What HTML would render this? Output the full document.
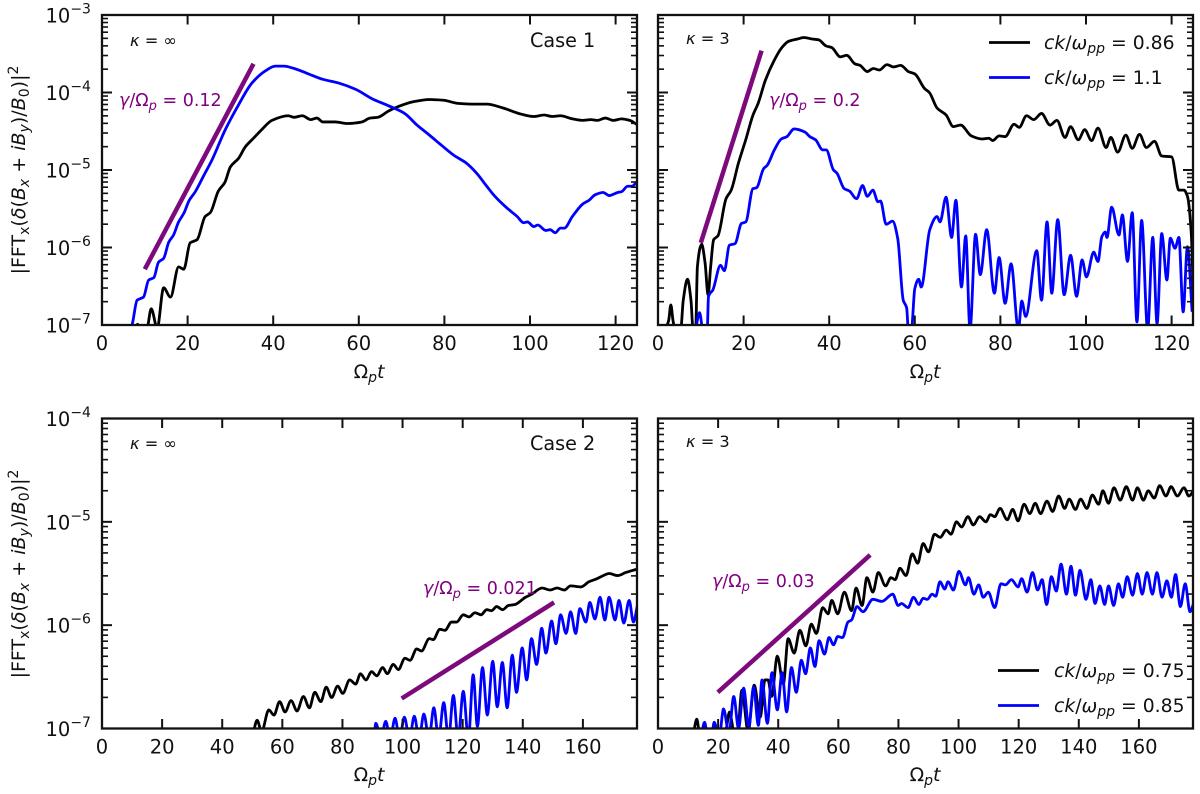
<!DOCTYPE html>
<html lang="en">
<head>
<meta charset="utf-8">
<title>FFT amplitude growth panels</title>
<style>
html,body{margin:0;padding:0;background:#fff;width:1200px;height:794px;overflow:hidden}
svg{display:block;filter:blur(0.35px)}
text{font-family:"DejaVu Sans","Liberation Sans",sans-serif;fill:#111}
.tick{font-size:19.5px}
.ann{font-size:16.2px}
.case{font-size:19.2px}
.rate{font-size:17.5px;fill:#800080}
.axl{font-size:19px}
.leg{font-size:18.8px}
.it{font-style:italic}
</style>
</head>
<body>
<svg id="figure" xmlns="http://www.w3.org/2000/svg" width="1200" height="794" viewBox="0 0 1200 794">
  <rect x="0" y="0" width="1200" height="794" fill="#fff"/>
  <g id="plots"></g>

  <g>
    <text class="axl" transform="translate(25,170) rotate(-90)" text-anchor="middle">|FFT<tspan dy="4" font-size="14">x</tspan><tspan dy="-4">(</tspan><tspan class="it">δ</tspan>(<tspan class="it">B</tspan><tspan dy="4" font-size="14" class="it">x</tspan><tspan dy="-4"> + </tspan><tspan class="it">iB</tspan><tspan dy="4" font-size="14" class="it">y</tspan><tspan dy="-4">)/</tspan><tspan class="it">B</tspan><tspan dy="4" font-size="14">0</tspan><tspan dy="-4">)|</tspan><tspan dy="-7" font-size="14">2</tspan></text>
    <text class="axl" transform="translate(25,574) rotate(-90)" text-anchor="middle">|FFT<tspan dy="4" font-size="14">x</tspan><tspan dy="-4">(</tspan><tspan class="it">δ</tspan>(<tspan class="it">B</tspan><tspan dy="4" font-size="14" class="it">x</tspan><tspan dy="-4"> + </tspan><tspan class="it">iB</tspan><tspan dy="4" font-size="14" class="it">y</tspan><tspan dy="-4">)/</tspan><tspan class="it">B</tspan><tspan dy="4" font-size="14">0</tspan><tspan dy="-4">)|</tspan><tspan dy="-7" font-size="14">2</tspan></text>

    <text class="axl" x="369" y="378" text-anchor="middle">Ω<tspan dy="4" font-size="14" class="it">p</tspan><tspan dy="-4" class="it">t</tspan></text>
    <text class="axl" x="925" y="378" text-anchor="middle">Ω<tspan dy="4" font-size="14" class="it">p</tspan><tspan dy="-4" class="it">t</tspan></text>
    <text class="axl" x="369" y="781" text-anchor="middle">Ω<tspan dy="4" font-size="14" class="it">p</tspan><tspan dy="-4" class="it">t</tspan></text>
    <text class="axl" x="925" y="781" text-anchor="middle">Ω<tspan dy="4" font-size="14" class="it">p</tspan><tspan dy="-4" class="it">t</tspan></text>

    <text class="ann" x="130" y="46"><tspan class="it">κ</tspan> = ∞</text>
    <text class="ann" x="686" y="44"><tspan class="it">κ</tspan> = 3</text>
    <text class="ann" x="130" y="449"><tspan class="it">κ</tspan> = ∞</text>
    <text class="ann" x="686" y="447"><tspan class="it">κ</tspan> = 3</text>

    <text class="case" x="530" y="47">Case 1</text>
    <text class="case" x="530" y="450">Case 2</text>

    <text class="rate" x="119" y="106"><tspan class="it">γ</tspan>/Ω<tspan dy="4" font-size="13" class="it">p</tspan><tspan dy="-4"> = 0.12</tspan></text>
    <text class="rate" x="769" y="106"><tspan class="it">γ</tspan>/Ω<tspan dy="4" font-size="13" class="it">p</tspan><tspan dy="-4"> = 0.2</tspan></text>
    <text class="rate" x="423" y="594"><tspan class="it">γ</tspan>/Ω<tspan dy="4" font-size="13" class="it">p</tspan><tspan dy="-4"> = 0.021</tspan></text>
    <text class="rate" x="712" y="587"><tspan class="it">γ</tspan>/Ω<tspan dy="4" font-size="13" class="it">p</tspan><tspan dy="-4"> = 0.03</tspan></text>

    <g>
      <line x1="989" x2="1030" y1="42.5" y2="42.5" stroke="#000" stroke-width="2.8"/>
      <text class="leg" x="1044" y="49"><tspan class="it">ck</tspan>/<tspan class="it">ω</tspan><tspan dy="4" font-size="14" class="it">pp</tspan><tspan dy="-4"> = 0.86</tspan></text>
      <line x1="989" x2="1030" y1="77.5" y2="77.5" stroke="#0000ff" stroke-width="2.8"/>
      <text class="leg" x="1044" y="84"><tspan class="it">ck</tspan>/<tspan class="it">ω</tspan><tspan dy="4" font-size="14" class="it">pp</tspan><tspan dy="-4"> = 1.1</tspan></text>
    </g>
    <g>
      <line x1="998" x2="1039" y1="670.5" y2="670.5" stroke="#000" stroke-width="2.8"/>
      <text class="leg" x="1054" y="677"><tspan class="it">ck</tspan>/<tspan class="it">ω</tspan><tspan dy="4" font-size="14" class="it">pp</tspan><tspan dy="-4"> = 0.75</tspan></text>
      <line x1="998" x2="1039" y1="705.5" y2="705.5" stroke="#0000ff" stroke-width="2.8"/>
      <text class="leg" x="1054" y="712"><tspan class="it">ck</tspan>/<tspan class="it">ω</tspan><tspan dy="4" font-size="14" class="it">pp</tspan><tspan dy="-4"> = 0.85</tspan></text>
    </g>
  </g>
</svg>

<script>
// ---- Tick labels ----
const xTicksCase1 = [0, 20, 40, 60, 80, 100, 120];
const xTicksCase2 = [0, 20, 40, 60, 80, 100, 120, 140, 160];
const yDecadesCase1 = [-3, -4, -5, -6, -7];
const yDecadesCase2 = [-4, -5, -6, -7];

// ---- Case 1, kappa = infinity (time, log10 amplitude) ----
const case1InfBlackT = [8,8.3,9,10.5,11.5,12.9,14.4,16,17.9,19.1,20.6,22.2,24.1,25.3,27.2,28.7,30,31.9,33.5,35.4,37.3,39.7,43.5,44.9,46.8,48.8,50.2,51.6,54.5,57.4,60.7,62.6,64.5,66.9,69.3,72.7,76.5,79.8,83.2,87.5,89.9,93.7,98,100.9,103.3,105.2,107.1,109.9,112.3,114.2,115.7,117.6,119.5,121.4,123.3,124.9];
const case1InfBlackLog = [-7.05,-6.99,-7.05,-7.04,-6.79,-7.04,-6.52,-6.64,-6.25,-6.28,-5.94,-5.9,-5.6,-5.55,-5.27,-5.16,-4.96,-4.85,-4.7,-4.59,-4.48,-4.36,-4.3,-4.32,-4.3,-4.35,-4.33,-4.38,-4.38,-4.4,-4.38,-4.33,-4.32,-4.24,-4.18,-4.12,-4.09,-4.1,-4.14,-4.15,-4.15,-4.2,-4.28,-4.31,-4.29,-4.31,-4.3,-4.34,-4.36,-4.35,-4.36,-4.33,-4.36,-4.34,-4.36,-4.41];
const case1InfBlueT = [6,7,8.2,9.7,10.9,12.1,13.2,14.4,15.6,16.7,17.9,19.1,20.4,21.8,23.7,25.7,28.8,31.9,35,38.2,40.5,42.5,44.9,47.8,51.6,55.4,59.3,63.1,66.9,70.7,73.6,76.5,79.3,82.2,85.1,87.5,89.9,91.8,94.6,97,98.5,99.4,100.9,101.8,103.7,104.7,105.9,107.1,108,109.9,112.3,113.8,115.2,117.1,118.5,120.5,121.4,122.8,123.8,124.9];
const case1InfBlueLog = [-7.1,-7,-6.68,-6.64,-6.42,-6.39,-6.19,-6.14,-5.93,-5.84,-5.67,-5.56,-5.39,-5.28,-5.08,-4.87,-4.48,-4.16,-3.88,-3.72,-3.66,-3.66,-3.69,-3.75,-3.83,-3.88,-3.96,-4.08,-4.17,-4.27,-4.42,-4.55,-4.68,-4.81,-4.91,-5.04,-5.21,-5.34,-5.49,-5.6,-5.68,-5.67,-5.73,-5.71,-5.78,-5.77,-5.81,-5.75,-5.75,-5.6,-5.44,-5.39,-5.32,-5.29,-5.33,-5.29,-5.28,-5.21,-5.21,-5.16];
const case1InfFitT = [10, 35.4];
const case1InfFitLog = [-6.28, -3.63];

// ---- Case 1, kappa = 3 ----
const case1KapBlackT = [1.7,2.5,3,3.5,4,5.3,5.9,6.9,7.7,8.2,8.8,9.2,10.2,11,11.7,12.3,13,14,15.9,17.1,18.8,20.5,22.2,23.4,25.1,27.2,28.8,30.5,32.6,34.1,36,37.5,39.3,40.6,42.6,44.1,46,47.2,48.9,50.3,51.7,53.5,55,56.7,58.5,60,62.3,63.4,65.2,67.3,69,70.7,73.2,75.7,77.3,78.2,79.7,81.1,83.2,84.4,86.1,87.8,89.6,91.6,93.2,95.1,96.4,98.2,99.7,101.3,102.8,104.7,105.8,107.4,109.3,110.8,112.5,114.1,116,117.7,120,121.7,122.9,123.7,124.6,125.2];
const case1KapBlackLog = [-7.06,-6.94,-6.74,-6.94,-7.06,-7.06,-6.68,-6.41,-6.68,-7.06,-7.06,-6.25,-5.96,-6.2,-6.61,-6.25,-5.9,-5.85,-5.37,-5.26,-4.91,-4.61,-4.29,-4.14,-3.84,-3.58,-3.43,-3.34,-3.31,-3.29,-3.31,-3.32,-3.4,-3.42,-3.54,-3.52,-3.63,-3.65,-3.73,-3.69,-3.71,-3.64,-3.67,-3.65,-3.73,-3.76,-3.95,-4,-4.2,-4.29,-4.44,-4.42,-4.56,-4.6,-4.59,-4.62,-4.56,-4.57,-4.41,-4.45,-4.3,-4.35,-4.27,-4.42,-4.36,-4.58,-4.44,-4.61,-4.48,-4.62,-4.46,-4.71,-4.58,-4.77,-4.55,-4.72,-4.54,-4.71,-4.63,-4.82,-4.83,-5.26,-5.26,-5.34,-5.82,-6.89];
const case1KapBlueT = [8.8,9.7,10.5,11.5,11.8,12.8,14.6,15.5,16.7,18,19.5,20.5,22.2,23,24.7,25.5,27.2,28.8,30.1,31.8,34.3,35.5,36.8,38.5,39.3,41,41.8,43.5,44.7,46.4,47.8,48.9,50.2,51.4,52,53.3,54.8,56,57.3,58.1,58.5,59.2,60,60.9,61.5,63.5,65.2,65.9,67.3,68.6,69.6,70.9,71.9,72.9,74.2,75.3,76.8,78.6,79.7,81.1,82.5,84.2,85,85.9,88.5,89.6,90.9,92,93.4,94.9,96.4,97.8,99.1,100.1,101.8,102.8,103.7,104.5,104.9,106,107.7,108.5,109.7,110.8,111.9,113,114.4,115.6,116.6,117.7,118.9,119.7,120.8,121.7,122.7,123.7,124.8];
const case1KapBlueLog = [-7.06,-6.84,-7.06,-7.06,-6.63,-6.55,-6.23,-6.3,-5.97,-5.95,-5.69,-5.67,-5.24,-5.23,-4.98,-4.94,-4.74,-4.6,-4.57,-4.47,-4.51,-4.57,-4.61,-4.74,-4.74,-5,-5.04,-5.24,-5.27,-5.37,-5.2,-5.34,-5.26,-5.41,-5.4,-5.7,-5.66,-5.88,-6.68,-6.78,-7.06,-7.06,-6.53,-6.41,-6.51,-5.77,-5.6,-5.67,-5.35,-5.87,-5.39,-6.51,-5.85,-7.06,-5.83,-6.35,-5.77,-6.59,-6.13,-6.72,-6.21,-7.06,-6.69,-6.89,-6.04,-6.68,-5.67,-6.59,-5.64,-6.61,-6.1,-6.63,-6.16,-6.38,-6.06,-6.18,-5.86,-5.8,-5.87,-5.48,-5.84,-5.58,-6.18,-5.55,-6.96,-5.65,-7.06,-5.87,-6.98,-5.82,-6.42,-5.88,-6.01,-5.87,-6.83,-5.99,-6.83];
const case1KapFitT = [10, 24.2];
const case1KapFitLog = [-5.94, -3.46];

// ---- Case 2, kappa = infinity ----
const case2InfBlackT = [50.4,51.6,53.1,55.5,57.2,59.1,60.9,62.9,64.9,67,69,70.8,72.8,74.6,76.4,78.4,80.1,82.4,84.4,86,87.8,89.7,91.4,93.4,94.9,96.9,98.6,100.8,102.5,104.7,106.3,108.9,110.2,112.4,114.1,116.3,118,120.2,122.1,124.1,126.1,128,129.6,131.3,133.3,135.2,137.4,140.9,143,146.4,149.1,151.4,153.8,155.9,159.3,162,164.7,166.1,168.8,171.5,174.3,177.8];
const case2InfBlackLog = [-7.03,-6.92,-7.03,-6.82,-6.87,-6.74,-6.84,-6.73,-6.83,-6.69,-6.8,-6.65,-6.74,-6.6,-6.7,-6.59,-6.66,-6.53,-6.57,-6.47,-6.53,-6.45,-6.49,-6.41,-6.47,-6.38,-6.43,-6.32,-6.34,-6.23,-6.25,-6.13,-6.14,-6.04,-6.05,-5.97,-5.97,-5.9,-5.92,-5.88,-5.9,-5.85,-5.86,-5.82,-5.85,-5.81,-5.8,-5.73,-5.7,-5.64,-5.66,-5.64,-5.66,-5.62,-5.63,-5.58,-5.55,-5.53,-5.5,-5.52,-5.49,-5.46];
const case2InfBlueT = [90.5,91.1,92.8,94.4,95.9,97.5,99,100.6,102.3,103.9,105.5,107.1,108.8,110.4,112,113.7,115.3,116.9,118.5,120.2,121.9,123.5,124.9,126.6,128.2,130,131.5,133.2,134.8,136.5,137.9,139.8,141.3,142.9,144.6,146.3,147.7,149.6,151,152.6,154.4,155.9,157.6,159,161,162.3,164,165.7,167.3,168.7,170.7,172,173.6,175.4,176.8,178.2];
const case2InfBlueLog = [-7.1,-6.95,-7.1,-6.93,-7.1,-6.9,-7.1,-6.89,-7.1,-6.88,-7.1,-6.86,-7.1,-6.8,-7.1,-6.75,-7.1,-6.68,-7.1,-6.64,-7.1,-6.48,-6.98,-6.41,-6.87,-6.35,-6.79,-6.36,-6.8,-6.29,-6.65,-6.22,-6.53,-6.13,-6.38,-6.03,-6.27,-5.96,-6.18,-5.9,-6.08,-5.87,-6.08,-5.84,-5.97,-5.78,-5.94,-5.73,-5.95,-5.73,-5.95,-5.76,-5.98,-5.76,-5.97,-5.8];
const case2InfFitT = [99.7, 150.4];
const case2InfFitLog = [-6.71, -5.78];

// ---- Case 2, kappa = 3 ----
const case2KapBlackT = [11.9,12.9,13.8,22.4,23.8,25.3,26.5,27.9,30,32,34,35.6,36.6,37.8,39.7,41.7,43.3,45.3,47.2,49.2,51,52.7,54.8,56.6,57.8,59.8,62,64.4,65.9,67.9,69.5,71.5,73.3,75.7,77.5,78.9,80.5,82.5,84.6,86.4,88.2,90,92,93.9,95.9,97.5,99.3,101,103.1,104.9,107,109.1,110.6,112,113.8,116.2,118,119.8,121.8,123.7,125.5,127.3,129.4,131.3,133.3,135.3,136.8,138.9,140.6,142.7,144.5,146.6,148,149.9,151.7,153.8,155.8,157.9,159.5,161.5,163.1,165.1,166.9,169,170.7,172.8,175,176.6,178.2];
const case2KapBlackLog = [-7.03,-6.91,-7.03,-7.03,-6.84,-7.03,-7.03,-6.63,-7.03,-6.58,-6.89,-6.53,-6.53,-6.69,-6.3,-6.57,-6.13,-6.27,-6.05,-6.2,-5.99,-6.08,-5.83,-5.89,-5.76,-5.89,-5.68,-5.86,-5.64,-5.81,-5.54,-5.68,-5.49,-5.62,-5.54,-5.56,-5.45,-5.52,-5.31,-5.4,-5.21,-5.29,-5.12,-5.15,-5.08,-5.12,-5,-5.05,-4.95,-5.03,-4.95,-5,-4.93,-4.95,-4.87,-4.98,-4.88,-4.99,-4.83,-4.92,-4.82,-4.92,-4.8,-4.9,-4.75,-4.87,-4.78,-4.88,-4.78,-4.87,-4.74,-4.83,-4.7,-4.82,-4.67,-4.79,-4.66,-4.79,-4.67,-4.79,-4.7,-4.77,-4.65,-4.75,-4.66,-4.75,-4.67,-4.75,-4.7];
const case2KapBlueT = [14.5,15.5,16.4,17.9,18.7,20,20.5,21.8,23.6,25.2,26.8,28.5,30.2,31.8,33.4,34.6,36.4,37.9,39.7,41.3,42.8,44.4,46,47.7,49.1,50.7,52.2,53.6,55.4,56.9,58.4,59.8,61.4,63.2,64.4,66.2,68.2,71.5,74.5,78.1,79.9,81,83.2,85,86.8,88.2,89.6,91.2,92.4,93.8,95.4,96.5,98.3,100.1,102.3,103.3,105.1,106.7,108.2,109.9,112,114.1,115.6,117.6,119.8,121,122.8,124.6,126.3,127.8,129.3,130.9,132.5,134.1,135.9,137.4,138.9,140.4,142.4,144,145.4,147,148.6,149.9,151.6,153.2,154.6,156.1,157.9,159.5,161.1,162.7,164.5,166,167.7,169.3,170.8,172.2,173.8,175.4,177,178.2];
const case2KapBlueLog = [-7.05,-6.94,-7.05,-7.05,-6.94,-7.05,-7.05,-6.81,-7.05,-6.69,-7,-6.61,-6.98,-6.6,-6.97,-6.53,-6.95,-6.46,-6.82,-6.46,-6.84,-6.41,-6.65,-6.34,-6.47,-6.22,-6.4,-6.15,-6.28,-6.12,-6.19,-6.11,-6.12,-5.97,-5.95,-5.82,-5.87,-5.75,-5.77,-5.7,-5.81,-5.79,-5.83,-5.73,-5.8,-5.74,-5.75,-5.7,-5.72,-5.58,-5.65,-5.58,-5.66,-5.48,-5.61,-5.54,-5.7,-5.61,-5.73,-5.68,-5.83,-5.6,-5.61,-5.56,-5.63,-5.55,-5.68,-5.49,-5.66,-5.56,-5.8,-5.53,-5.67,-5.41,-5.7,-5.43,-5.71,-5.47,-5.75,-5.56,-5.79,-5.62,-5.8,-5.62,-5.81,-5.6,-5.73,-5.53,-5.71,-5.5,-5.7,-5.49,-5.7,-5.49,-5.73,-5.57,-5.73,-5.51,-5.82,-5.6,-5.87,-5.79];
const case2KapFitT = [19.9, 70.6];
const case2KapFitLog = [-6.65, -5.32];

const SVG_NS = 'http://www.w3.org/2000/svg';
const INK = '#111';

function make(tag, attrs, parent) {
  const node = document.createElementNS(SVG_NS, tag);
  for (const key in attrs) node.setAttribute(key, attrs[key]);
  parent.appendChild(node);
  return node;
}

// Monotone cubic through the screen points, flat at local peaks and troughs.
function monotonePath(xs, ys) {
  const n = xs.length;
  const slopes = [];
  for (let i = 0; i < n - 1; i++) slopes.push((ys[i + 1] - ys[i]) / (xs[i + 1] - xs[i]));
  const tangents = [slopes[0]];
  for (let i = 1; i < n - 1; i++) {
    if (slopes[i - 1] * slopes[i] <= 0) tangents.push(0);
    else {
      const h0 = xs[i] - xs[i - 1];
      const h1 = xs[i + 1] - xs[i];
      const w0 = 2 * h1 + h0;
      const w1 = h1 + 2 * h0;
      tangents.push((w0 + w1) / (w0 / slopes[i - 1] + w1 / slopes[i]));
    }
  }
  tangents.push(slopes[n - 2]);
  let d = 'M' + xs[0].toFixed(2) + ' ' + ys[0].toFixed(2);
  for (let i = 0; i < n - 1; i++) {
    const h = (xs[i + 1] - xs[i]) / 3;
    d += 'C' + (xs[i] + h).toFixed(2) + ' ' + (ys[i] + tangents[i] * h).toFixed(2) + ' ' +
         (xs[i + 1] - h).toFixed(2) + ' ' + (ys[i + 1] - tangents[i + 1] * h).toFixed(2) + ' ' +
         xs[i + 1].toFixed(2) + ' ' + ys[i + 1].toFixed(2);
  }
  return d;
}

function drawPanel(cfg) {
  const root = document.getElementById('plots');
  const g = make('g', {}, root);
  
  

  const width = cfg.right - cfg.left;
  const height = cfg.bottom - cfg.top;
  const xScale = t => cfg.left + (t / cfg.xMax) * width;
  const yScale = lg => cfg.bottom - ((lg - cfg.logMin) / (cfg.logMax - cfg.logMin)) * height;

  const clipId = 'clip-' + cfg.name;
  const clip = make('clipPath', { id: clipId }, g);
  make('rect', { x: cfg.left, y: cfg.top, width: width, height: height }, clip);

  const marks = make('g', { 'clip-path': 'url(#' + clipId + ')' }, g);
  
  

  const fit = make('line', {
    x1: xScale(cfg.fitT[0]), y1: yScale(cfg.fitLog[0]),
    x2: xScale(cfg.fitT[1]), y2: yScale(cfg.fitLog[1]),
    stroke: '#7d0a7d', 'stroke-width': 4.5
  }, marks);
  
  

  const black = make('path', {
    d: monotonePath(cfg.blackT.map(xScale), cfg.blackLog.map(yScale)),
    fill: 'none', stroke: '#000', 'stroke-width': 2.8, 'stroke-linejoin': 'round'
  }, marks);
  
  

  const blue = make('path', {
    d: monotonePath(cfg.blueT.map(xScale), cfg.blueLog.map(yScale)),
    fill: 'none', stroke: '#0000ff', 'stroke-width': 2.8, 'stroke-linejoin': 'round'
  }, marks);
  
  

  const axes = make('g', { stroke: INK, fill: 'none' }, g);
  
  

  cfg.xTicks.forEach(t => {
    const x = xScale(t);
    make('line', { x1: x, x2: x, y1: cfg.bottom, y2: cfg.bottom - 9.5, 'stroke-width': 2 }, axes);
    make('line', { x1: x, x2: x, y1: cfg.top, y2: cfg.top + 9.5, 'stroke-width': 2 }, axes);
    const label = make('text', { class: 'tick', x: x, y: cfg.bottom + 25, 'text-anchor': 'middle' }, g);
    
    
    label.textContent = String(t);
  });

  cfg.yDecades.forEach(lg => {
    const y = yScale(lg);
    make('line', { x1: cfg.left, x2: cfg.left + 10, y1: y, y2: y, 'stroke-width': 2 }, axes);
    make('line', { x1: cfg.right, x2: cfg.right - 10, y1: y, y2: y, 'stroke-width': 2 }, axes);
    if (lg > cfg.logMin) {
      for (let k = 1; k < 9; k++) {
        const my = yScale(lg - 1 + Math.log10(k + 1));
        make('line', { x1: cfg.left, x2: cfg.left + 6, y1: my, y2: my, 'stroke-width': 1.6 }, axes);
        make('line', { x1: cfg.right, x2: cfg.right - 6, y1: my, y2: my, 'stroke-width': 1.6 }, axes);
      }
    }
    if (cfg.showY) {
      const label = make('text', { class: 'tick', x: 45.5, y: y + 7.5 }, g);
      
      
      const base = make('tspan', {}, label);
      base.textContent = '10';
      const exp = make('tspan', { dy: -9, 'font-size': 14 }, label);
      exp.textContent = '\u2212' + Math.abs(lg);
    }
  });

  const frame = make('rect', { x: cfg.left, y: cfg.top, width: width, height: height, 'stroke-width': 2.3 }, axes);
  
  
}

drawPanel({
  name: 'case1-maxwellian', left: 102, right: 637, top: 15, bottom: 325,
  xMax: 125, logMin: -7, logMax: -3, xTicks: xTicksCase1, yDecades: yDecadesCase1, showY: true,
  blackT: case1InfBlackT, blackLog: case1InfBlackLog,
  blueT: case1InfBlueT, blueLog: case1InfBlueLog,
  fitT: case1InfFitT, fitLog: case1InfFitLog
});
drawPanel({
  name: 'case1-kappa', left: 658, right: 1193, top: 15, bottom: 325,
  xMax: 125, logMin: -7, logMax: -3, xTicks: xTicksCase1, yDecades: yDecadesCase1, showY: false,
  blackT: case1KapBlackT, blackLog: case1KapBlackLog,
  blueT: case1KapBlueT, blueLog: case1KapBlueLog,
  fitT: case1KapFitT, fitLog: case1KapFitLog
});
drawPanel({
  name: 'case2-maxwellian', left: 102, right: 637, top: 418.5, bottom: 728.5,
  xMax: 178, logMin: -7, logMax: -4, xTicks: xTicksCase2, yDecades: yDecadesCase2, showY: true,
  blackT: case2InfBlackT, blackLog: case2InfBlackLog,
  blueT: case2InfBlueT, blueLog: case2InfBlueLog,
  fitT: case2InfFitT, fitLog: case2InfFitLog
});
drawPanel({
  name: 'case2-kappa', left: 658, right: 1193, top: 418.5, bottom: 728.5,
  xMax: 178, logMin: -7, logMax: -4, xTicks: xTicksCase2, yDecades: yDecadesCase2, showY: false,
  blackT: case2KapBlackT, blackLog: case2KapBlackLog,
  blueT: case2KapBlueT, blueLog: case2KapBlueLog,
  fitT: case2KapFitT, fitLog: case2KapFitLog
});
</script>
</body>
</html>
